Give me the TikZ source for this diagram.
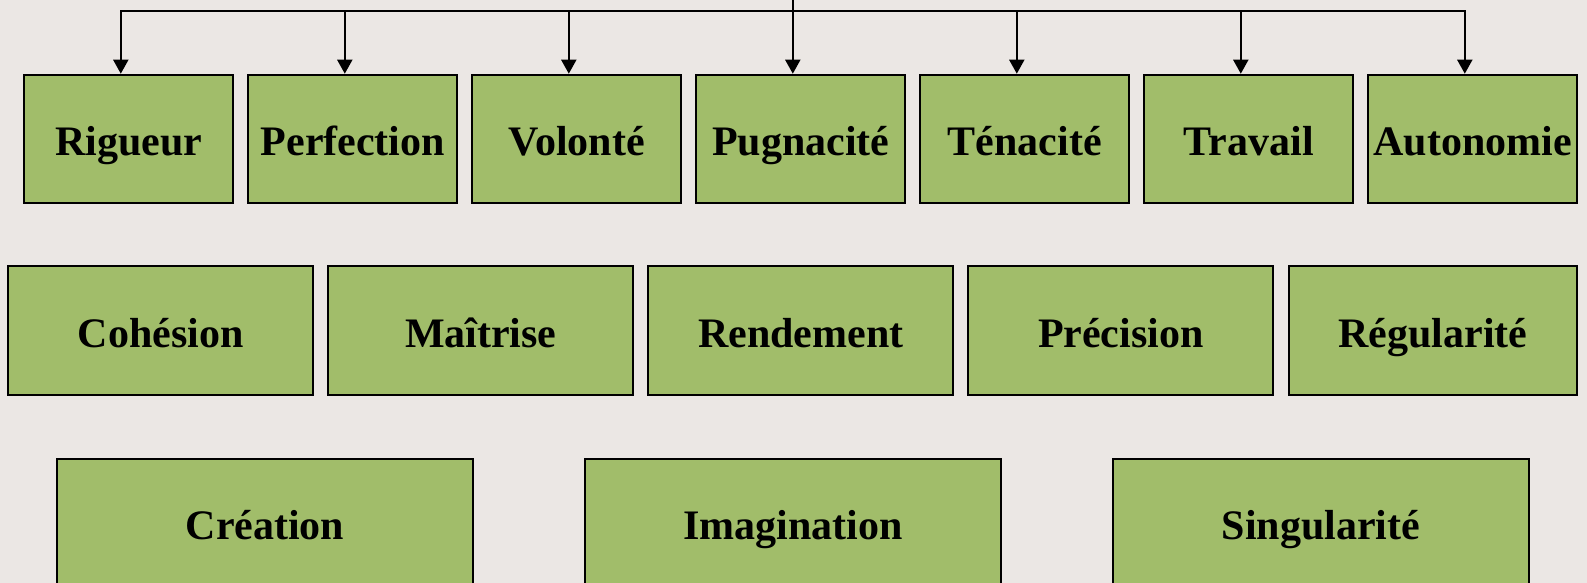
\documentclass[tikz,border=0pt]{standalone}
\usepackage{fontspec}
\setmainfont{Liberation Serif}
\usetikzlibrary{arrows.meta}
\definecolor{bgc}{RGB}{235,231,228}
\definecolor{boxg}{RGB}{161,189,106}
\tikzset{
  quality/.style={draw=black, line width=2pt, fill=boxg, rectangle, inner sep=0pt,
    text height=33pt, text depth=0pt, font=\fontsize{42}{46}\selectfont\bfseries},
  toprow/.style={quality, minimum width=209pt, minimum height=128pt},
  midrow/.style={quality, minimum width=305pt, minimum height=128.7pt},
  lowrow/.style={quality, minimum width=416.5pt, minimum height=128pt},
  link/.style={draw=black, line width=2pt},
  arr/.style={link, -{Triangle[length=14pt,width=15pt]}}
}
\begin{document}
\begin{tikzpicture}[x=1pt,y=-1pt]
\fill[bgc] (0,0) rectangle (1587,583);
\useasboundingbox (0,0) rectangle (1587,583);
\begin{scope}
\clip (0,0) rectangle (1587,583);
% top row
\node[toprow] (r1) at (128.8,138.7) {Rigueur};
\node[toprow] (r2) at (352.8,138.7) {Perfection};
\node[toprow] (r3) at (576.8,138.7) {Volonté};
\node[toprow] (r4) at (800.8,138.7) {Pugnacité};
\node[toprow] (r5) at (1024.8,138.7) {Ténacité};
\node[toprow] (r6) at (1248.8,138.7) {Travail};
\node[toprow] (r7) at (1472.8,138.7) {Autonomie};
% middle row
\node[midrow] (m1) at (160.8,330.7) {Cohésion};
\node[midrow] (m2) at (480.8,330.7) {Maîtrise};
\node[midrow] (m3) at (800.8,330.7) {Rendement};
\node[midrow] (m4) at (1120.8,330.7) {Précision};
\node[midrow, minimum width=288.3pt] (m5) at (1432.85,330.7) {Régularité};
% bottom row
\node[lowrow] (b1) at (265,522.7) {Création};
\node[lowrow] (b2) at (793,522.7) {Imagination};
\node[lowrow] (b3) at (1321.1,522.7) {Singularité};
% connectors
\coordinate (top) at (792.7,-2);
\coordinate (busL) at (121,11);
\coordinate (busR) at (1465,11);
\draw[link] ([xshift=-1pt]busL) -- ([xshift=1pt]busR);
\draw[link] (top) -- (top |- busL);
\foreach \n in {r1,r2,r3,r4,r5,r6,r7}{
  \draw[arr] ([xshift=-8pt]\n.north |- busL) -- ([xshift=-8pt]\n.north);
}
\end{scope}
\end{tikzpicture}
\end{document}
